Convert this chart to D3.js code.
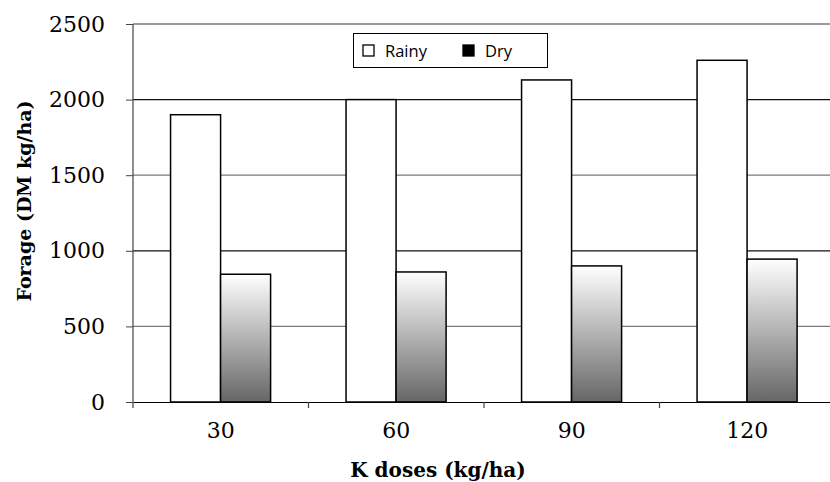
<!DOCTYPE html>
<html>
<head>
<meta charset="utf-8">
<script src="https://cdn.jsdelivr.net/npm/d3@7"></script>
<style>
  body { margin: 0; background: #fff; }
</style>
</head>
<body>
<div id="wrapper"></div>
<script>
// data
const doses = ["30", "60", "90", "120"]
const seriesNames = ["Rainy", "Dry"]
const rainy = [1900, 2000, 2130, 2260]
const dry = [845, 860, 900, 945]
const yTicks = [0, 500, 1000, 1500, 2000, 2500]

const dataset = doses.map((d, i) => ({dose: d, Rainy: rainy[i], Dry: dry[i]}))

// dimensions
let dimensions = {
  width: 830,
  height: 482,
  margin: {top: 24, right: -5, bottom: 80, left: 133}
}
dimensions.boundedWidth = dimensions.width - dimensions.margin.left - dimensions.margin.right
dimensions.boundedHeight = dimensions.height - dimensions.margin.top - dimensions.margin.bottom

const svg = d3.select("#wrapper")
  .append("svg")
    .attr("width", dimensions.width)
    .attr("height", dimensions.height)

const defs = svg.append("defs")
const grad = defs.append("linearGradient")
    .attr("id", "dryFill")
    .attr("x1", 0).attr("y1", 0).attr("x2", 0).attr("y2", 1)
grad.append("stop").attr("offset", "0%").attr("stop-color", "#ffffff")
grad.append("stop").attr("offset", "100%").attr("stop-color", "#666666")

const bounds = svg.append("g")
    .attr("transform", `translate(${dimensions.margin.left},${dimensions.margin.top})`)

// scales
const xScale = d3.scaleBand()
    .domain(doses)
    .range([0, dimensions.boundedWidth])
const bw = xScale.bandwidth()
const subScale = d3.scaleBand()
    .domain(seriesNames)
    .range([bw * 0.214, bw * 0.784])
const yScale = d3.scaleLinear()
    .domain([0, 2500])
    .range([dimensions.boundedHeight, 0])

// gridlines
bounds.append("g")
  .selectAll("line")
  .data(yTicks.filter(d => d > 0))
  .join("line")
    .attr("x1", 0)
    .attr("x2", dimensions.boundedWidth)
    .attr("y1", d => yScale(d))
    .attr("y2", d => yScale(d))
    .attr("stroke", d => (d === 2000 || d === 1000) ? "#111" : "#7a7a7a")
    .attr("stroke-width", d => d === 2500 ? 1.5 : 1.2)

// bars
const groups = bounds.append("g")
  .selectAll("g")
  .data(dataset)
  .join("g")
    .attr("transform", d => `translate(${xScale(d.dose)},0)`)

groups.selectAll("rect")
  .data(d => seriesNames.map(k => ({key: k, value: d[k]})))
  .join("rect")
    .attr("x", d => subScale(d.key))
    .attr("y", d => yScale(d.value))
    .attr("width", subScale.bandwidth())
    .attr("height", d => yScale(0) - yScale(d.value))
    .attr("fill", d => d.key === "Rainy" ? "#ffffff" : "url(#dryFill)")
    .attr("stroke", "#000")
    .attr("stroke-width", 1.5)

// axes
const yAxis = d3.axisLeft(yScale)
    .tickValues(yTicks)
    .tickFormat(d3.format("d"))
    .tickSize(7)
    .tickPadding(21)
const yAxisG = bounds.append("g").call(yAxis)
yAxisG.select(".domain").attr("stroke", "#444").attr("stroke-width", 1.2)
  .attr("d", `M0,${dimensions.boundedHeight}V0`)
yAxisG.selectAll(".tick line").attr("stroke", "#444")
yAxisG.selectAll("text")
    .style("font-family", "'DejaVu Serif', serif")
    .style("font-size", "22px")
    .attr("fill", "#000")

const xAxis = d3.axisBottom(xScale)
    .tickSize(0)
    .tickPadding(20)
const xAxisG = bounds.append("g")
    .attr("transform", `translate(0,${dimensions.boundedHeight})`)
    .call(xAxis)
xAxisG.select(".domain").attr("stroke", "#000").attr("stroke-width", 1.2)
xAxisG.selectAll("text")
    .style("font-family", "'DejaVu Serif', serif")
    .style("font-size", "22px")
    .attr("fill", "#000")

// category separators on the x axis
xAxisG.append("g")
  .selectAll("line")
  .data(doses)
  .join("line")
    .attr("x1", d => xScale(d))
    .attr("x2", d => xScale(d))
    .attr("y1", 0)
    .attr("y2", 6)
    .attr("stroke", "#444")
    .attr("stroke-width", 1.2)

// axis titles
svg.append("text")
    .attr("x", 438)
    .attr("y", 477)
    .attr("text-anchor", "middle")
    .style("font-family", "'DejaVu Serif', serif")
    .style("font-weight", "bold")
    .style("font-size", "20px")
    .text("K doses (kg/ha)")

svg.append("text")
    .attr("transform", "translate(31,201) rotate(-90)")
    .attr("text-anchor", "middle")
    .style("font-family", "'DejaVu Serif', serif")
    .style("font-weight", "bold")
    .style("font-size", "19px")
    .text("Forage (DM kg/ha)")

// legend
const legend = svg.append("g")
legend.append("rect")
    .attr("x", 353.5).attr("y", 33.5)
    .attr("width", 194).attr("height", 34)
    .attr("fill", "#fff")
    .attr("stroke", "#000")
    .attr("stroke-width", 1)
const legendX = [363, 463]
const items = legend.selectAll("g.item")
  .data(seriesNames)
  .join("g")
    .attr("class", "item")
    .attr("transform", (d, i) => `translate(${legendX[i]},45)`)
items.append("rect")
    .attr("width", 11).attr("height", 11)
    .attr("fill", d => d === "Rainy" ? "#fff" : "#000")
    .attr("stroke", "#000")
    .attr("stroke-width", 1.3)
items.append("text")
    .attr("x", 22)
    .attr("y", 12)
    .style("font-family", "'Open Sans', sans-serif")
    .style("font-size", "16.5px")
    .text(d => d)
</script>
</body>
</html>
